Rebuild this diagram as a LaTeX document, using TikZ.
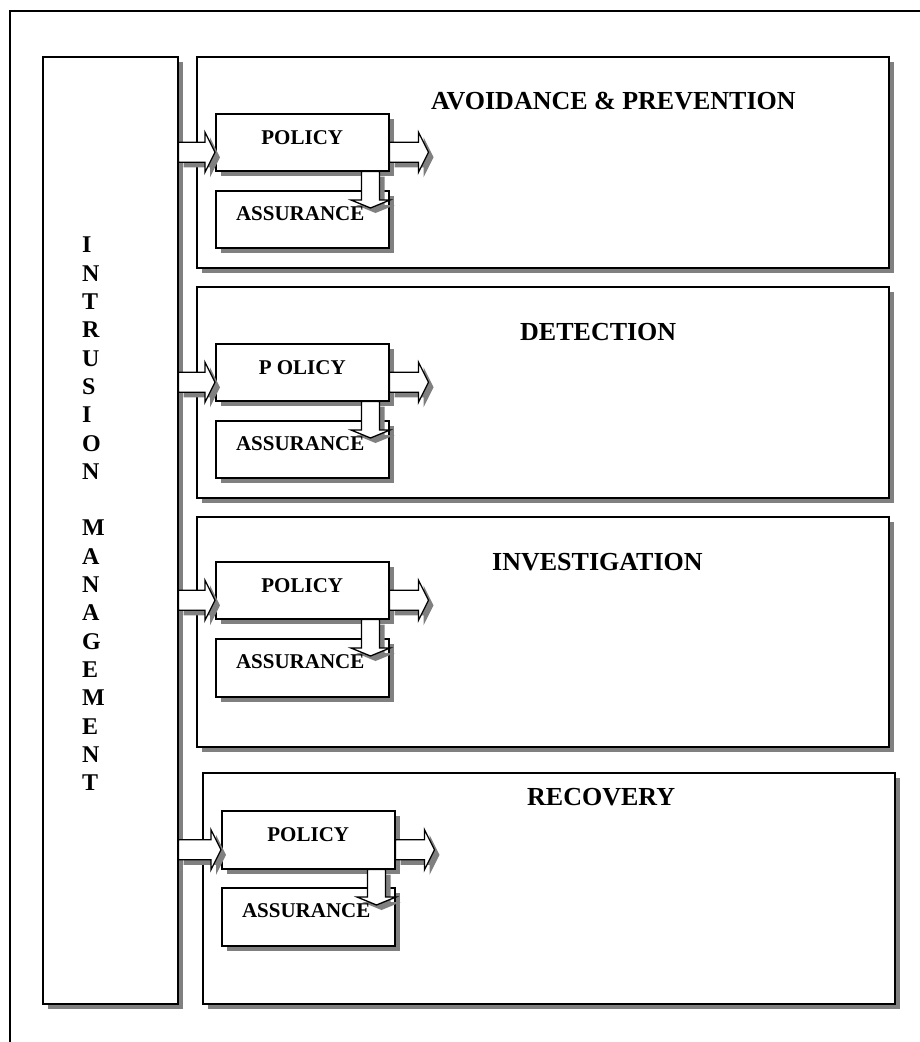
\documentclass[tikz,border=0pt]{standalone}
\usepackage{fontspec}
\setmainfont{Liberation Serif}
\usetikzlibrary{shadows,calc}
\definecolor{shade}{HTML}{808080}

% horizontal block arrow: tail point #1, tip point #2 (same height)
\newcommand\harrow[2]{%
  \path[blockarrow] let \p1=(#1), \p2=(#2) in
    (\x1,{\y1+10pt}) -- ({\x2-10pt},{\y1+10pt}) -- ({\x2-10pt},{\y1+20pt})
    -- (\x2,\y1) -- ({\x2-10pt},{\y1-20pt}) -- ({\x2-10pt},{\y1-10pt})
    -- (\x1,{\y1-10pt}) -- cycle;}
% downward block arrow: tail point #1, tip point #2 (same column)
\newcommand\varrow[2]{%
  \path[blockarrow] let \p1=(#1), \p2=(#2) in
    ({\x1-9pt},\y1) -- ({\x1-9pt},{\y2+8pt}) -- ({\x1-19.5pt},{\y2+8pt})
    -- (\x1,\y2) -- ({\x1+19.5pt},{\y2+8pt}) -- ({\x1+9pt},{\y2+8pt})
    -- ({\x1+9pt},\y1) -- cycle;}

\begin{document}
\begin{tikzpicture}[x=1pt,y=-1pt,
  framed/.style={draw=black,line width=1.5pt,fill=white,
    drop shadow={shadow xshift=5pt,shadow yshift=-5pt,fill=shade,opacity=1}},
  box/.style={framed,rectangle,inner sep=0pt,anchor=north west},
  blockarrow/.style={framed,line width=1.3pt,line join=miter},
  title/.style={font=\bfseries\fontsize{26}{30}\selectfont,anchor=base west,inner sep=0pt},
  lbl/.style={font=\bfseries\fontsize{21}{25}\selectfont,anchor=base,inner sep=0pt},
  vtext/.style={font=\bfseries\fontsize{24}{28.3}\selectfont,align=left,anchor=north west,inner sep=0pt},
]
\useasboundingbox (0,0) rectangle (920,1042);

% page frame (top and left rules)
\coordinate (fb) at (10,1042);
\coordinate (fc) at (10,11);
\coordinate (fr) at (920,11);
\draw[line width=1.2pt] (fb) -- (fc) -- (fr);

% left column
\node[box,minimum width=135pt,minimum height=947pt] (im) at (42,56) {};
\node[vtext] (imtext) at (82,237)
  {I\\N\\T\\R\\U\\S\\I\\O\\N\\\mbox{}\\M\\A\\N\\A\\G\\E\\M\\E\\N\\T};

% stage panels
\node[box,minimum width=692pt,minimum height=211pt] (pan1) at (196,56) {};
\node[box,minimum width=692pt,minimum height=211pt] (pan2) at (196,286) {};
\node[box,minimum width=692pt,minimum height=230pt] (pan3) at (196,516) {};
\node[box,minimum width=692pt,minimum height=231pt] (pan4) at (202,772) {};

\node[title] (t1) at (431,109) {AVOIDANCE \& PREVENTION};
\node[title] (t2) at (520,340) {DETECTION};
\node[title] (t3) at (492,570) {INVESTIGATION};
\node[title] (t4) at (527,805) {RECOVERY};

% policy / assurance boxes
\node[box,minimum width=173pt,minimum height=57pt] (pol1) at (215,113) {};
\node[box,minimum width=173pt,minimum height=57pt] (ass1) at (215,190) {};
\node[box,minimum width=173pt,minimum height=57pt] (pol2) at (215,343) {};
\node[box,minimum width=173pt,minimum height=57pt] (ass2) at (215,420) {};
\node[box,minimum width=173pt,minimum height=57pt] (pol3) at (215,561) {};
\node[box,minimum width=173pt,minimum height=58pt] (ass3) at (215,638) {};
\node[box,minimum width=173pt,minimum height=58pt] (pol4) at (221,810) {};
\node[box,minimum width=173pt,minimum height=58pt] (ass4) at (221,887) {};

% arrows
\foreach \i in {1,2,3,4} {
  \coordinate (in\i) at ($(pol\i.west)+(0,10)$);
  \coordinate (out\i) at ($(pol\i.east)+(39,10)$);
  \harrow{im.east |- in\i}{in\i}
  \harrow{pol\i.east |- out\i}{out\i}
  \varrow{$(pol\i.south east)+(-19,0)$}{$(ass\i.north east)+(-19,18)$}
}

% box captions
\node[lbl] (pl1) at ($(pol1.north)+(0,31)$) {POLICY};
\node[lbl] (al1) at ($(ass1.north)+(-2,30)$) {ASSURANCE};
\node[lbl] (pl2) at ($(pol2.north)+(0,31)$) {P OLICY};
\node[lbl] (al2) at ($(ass2.north)+(-2,30)$) {ASSURANCE};
\node[lbl] (pl3) at ($(pol3.north)+(0,31)$) {POLICY};
\node[lbl] (al3) at ($(ass3.north)+(-2,30)$) {ASSURANCE};
\node[lbl] (pl4) at ($(pol4.north)+(0,31)$) {POLICY};
\node[lbl] (al4) at ($(ass4.north)+(-2,30)$) {ASSURANCE};
\end{tikzpicture}
\end{document}
